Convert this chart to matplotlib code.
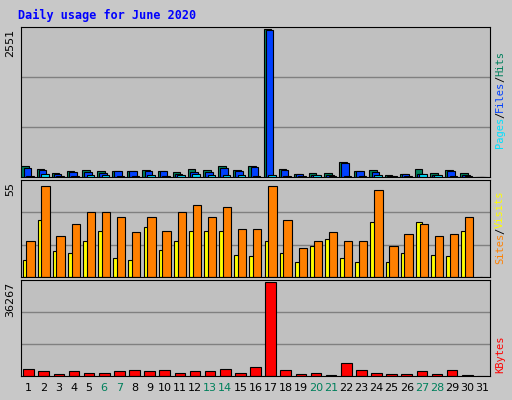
import matplotlib.pyplot as plt
import numpy as np

days = list(range(1, 32))
weekend = [6, 7, 13, 14, 20, 21, 27, 28]
# top panel (pixel-estimated, scaled to max 2551)
hits = [184, 143, 74, 108, 126, 108, 108, 108, 126, 108, 91, 143, 126, 184, 126, 184, 2560,
        138, 57, 74, 74, 263, 108, 126, 34, 52, 143, 74, 126, 74, 0]
files = [160, 118, 55, 90, 90, 75, 105, 105, 100, 105, 60, 90, 90, 160, 100, 172, 2551,
         120, 45, 40, 40, 250, 100, 85, 25, 45, 60, 35, 110, 40, 0]
pages = [25, 45, 20, 20, 30, 30, 15, 15, 35, 15, 30, 50, 35, 40, 30, 15, 40,
         20, 15, 30, 20, 20, 15, 30, 10, 10, 60, 30, 20, 20, 0]
visits = [10, 33, 15, 14, 21, 27, 11, 10, 29, 16, 21, 27, 27, 27, 13, 12, 21,
          14, 9, 18, 22, 11, 9, 32, 9, 14, 32, 13, 12, 27, 0]
sites = [21, 53, 24, 31, 38, 38, 35, 26, 35, 27, 38, 42, 35, 41, 28, 28, 53,
         33, 17, 21, 26, 21, 21, 51, 18, 25, 31, 24, 25, 35, 0]
kbytes = [2880, 1850, 900, 1850, 1300, 1300, 1850, 2250, 1850, 2250, 1300, 1850, 1850, 2880, 1300,
          3660, 36267, 2480, 900, 1300, 200, 4850, 2250, 1300, 900, 900, 1850, 900, 2250, 200, 0]

W, H = 512, 400
fig = plt.figure(figsize=(W / 100, H / 100), dpi=100)
fig.patch.set_facecolor('#c8c8c8')
x = np.array(days)
mono = 'DejaVu Sans Mono'

def panel(top, bottom):
    ax = fig.add_axes([21 / W, 1 - bottom / H, 469 / W, (bottom - top) / H])
    ax.set_facecolor('#c0c0c0')
    ax.set_xlim(0.5, 31.5)
    ax.set_xticks([])
    ax.set_yticks([])
    for s in ax.spines.values():
        s.set_color('black')
    return ax

ax1 = panel(27, 177)
ax1.set_ylim(0, 2551 * 1.02)
for g in (1, 2):
    ax1.axhline(2551 * 1.02 * g / 3, color='#808080', lw=1, zorder=0)
ax1.bar(x - 0.22, hits, 0.5, color='#00805c', edgecolor='black', lw=0.8)
ax1.bar(x - 0.08, files, 0.5, color='#0040ff', edgecolor='black', lw=0.8)
ax1.bar(x + 0.08, pages, 0.5, color='#00e0ff', edgecolor='black', lw=0.8)

ax2 = panel(180, 277)
ax2.set_ylim(0, 55 * 1.03)
for g in (1, 2):
    ax2.axhline(55 * 1.03 * g / 3, color='#808080', lw=1, zorder=0)
ax2.bar(x - 0.2, visits, 0.4, color='#ffff00', edgecolor='black', lw=0.8)
ax2.bar(x + 0.12, sites, 0.55, color='#ff8000', edgecolor='black', lw=0.8)

ax3 = panel(280, 376)
ax3.set_ylim(0, 36267 * 1.02)
for g in (1, 2):
    ax3.axhline(36267 * 1.02 * g / 3, color='#808080', lw=1, zorder=0)
ax3.bar(x, kbytes, 0.7, color='#ff0000', edgecolor='black', lw=0.8)

for d in days:
    fig.text((21 + (d - 0.5) * 469 / 31) / W, 1 - 388 / H, str(d), ha='center', va='center',
             fontsize=8, color='#00805c' if d in weekend else 'black')

fig.text(18 / W, 1 - 15 / H, 'Daily usage for June 2020', fontsize=8.5, fontweight='bold',
         color='#0000ff', family=mono, va='center')
for y, lab in ((29, '2551'), (182, '55'), (282, '36267')):
    fig.text(10 / W, 1 - y / H, lab, rotation=90, fontsize=8, ha='center', va='top')

def right_label(ycenter, parts):
    total = sum(len(p) for p, _ in parts)
    ch = 6.0
    ypos = ycenter + total * ch / 2
    for p, c in parts:
        fig.text(500 / W, 1 - ypos / H, p, rotation=90, fontsize=7.5, color=c, family=mono,
                 ha='center', va='bottom')
        ypos -= len(p) * ch

right_label(100, [('Pages', '#00e0ff'), ('/', 'black'), ('Files', '#0040ff'), ('/', 'black'), ('Hits', '#00805c')])
right_label(228, [('Sites', '#ff8000'), ('/', 'black'), ('Visits', '#ffff00')])
right_label(355, [('KBytes', '#ff0000')])

fig.savefig('out.png', dpi=100, facecolor=fig.get_facecolor())
